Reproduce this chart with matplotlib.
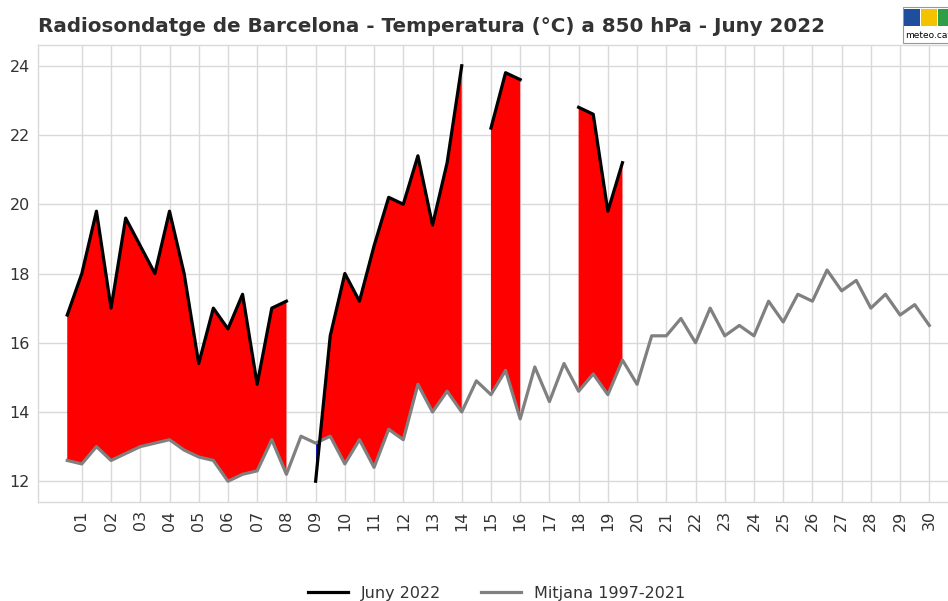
import numpy as np
import matplotlib
matplotlib.use("Agg")
import matplotlib.pyplot as plt
from matplotlib.patches import Rectangle

nan = np.nan
# half-day observations (00 and 12 UTC), 1-30 June
juny_2022 = [16.8, 18.0, 19.8, 17.0, 19.6, 18.8, 18.0, 19.8, 18.0, 15.4,
             17.0, 16.4, 17.4, 14.8, 17.0, 17.2, nan, 12.0, 16.2, 18.0,
             17.2, 18.8, 20.2, 20.0, 21.4, 19.4, 21.2, 24.0, nan, 22.2,
             23.8, 23.6, nan, nan, nan, 22.8, 22.6, 19.8, 21.2, nan,
             nan, nan, nan, nan, nan, nan, nan, nan, nan, nan,
             nan, nan, nan, nan, nan, nan, nan, nan, nan, nan]
mitjana = [12.6, 12.5, 13.0, 12.6, 12.8, 13.0, 13.1, 13.2, 12.9, 12.7,
           12.6, 12.0, 12.2, 12.3, 13.2, 12.2, 13.3, 13.1, 13.3, 12.5,
           13.2, 12.4, 13.5, 13.2, 14.8, 14.0, 14.6, 14.0, 14.9, 14.5,
           15.2, 13.8, 15.3, 14.3, 15.4, 14.6, 15.1, 14.5, 15.5, 14.8,
           16.2, 16.2, 16.7, 16.0, 17.0, 16.2, 16.5, 16.2, 17.2, 16.6,
           17.4, 17.2, 18.1, 17.5, 17.8, 17.0, 17.4, 16.8, 17.1, 16.5]
day_labels = [f"{d:02d}" for d in range(1, 31)]

y_obs = np.array(juny_2022, dtype=float)
y_avg = np.array(mitjana, dtype=float)
x = np.arange(len(y_avg))

fig = plt.figure(figsize=(9.48, 6.01), dpi=100)
ax = fig.add_axes([38/948, 99/601, (960-38)/948, (556-99)/601])

ax.fill_between(x, y_obs, y_avg, where=y_obs >= y_avg, interpolate=True,
                color="#ff0000", linewidth=0, zorder=2)
ax.fill_between(x, y_obs, y_avg, where=y_obs < y_avg, interpolate=True,
                color="#0000cc", linewidth=0, zorder=2)
ax.plot(x, y_obs, color="black", lw=2.3, label="Juny 2022", zorder=4)
ax.plot(x, y_avg, color="#808080", lw=2.3, label="Mitjana 1997-2021", zorder=3)

ax.set_xlim(-2, 61.1)
ax.set_ylim(11.4, 24.6)
ax.set_xticks(x[1::2])
ax.set_xticklabels(day_labels, rotation=90)
ax.set_yticks([12, 14, 16, 18, 20, 22, 24])
ax.tick_params(axis="both", length=0, labelsize=11.5, labelcolor="#333333", pad=6)
ax.grid(True, color="#d9d9d9", lw=1.0, zorder=0)
ax.set_axisbelow(True)
for s in ax.spines.values():
    s.set_color("#d9d9d9")
    s.set_linewidth(1.0)

fig.text(38/948, 1 - 27/601, "Radiosondatge de Barcelona - Temperatura (°C) a 850 hPa - Juny 2022",
         fontsize=14.3, fontweight="bold", color="#333333", ha="left", va="center")

h, l = ax.get_legend_handles_labels()
fig.legend(h, l, loc="center", bbox_to_anchor=(0.524, 0.013), ncol=2, frameon=False,
           fontsize=11.5, labelcolor="#333333", handlelength=2.5, columnspacing=2.5)

# logo
W, H = 948, 601
fig.patches.append(Rectangle((903/W, 1 - 43/H), 50/W, 36/H, transform=fig.transFigure,
                             facecolor="white", edgecolor="#999999", lw=0.8))
for x0, c in [(904, "#1f4e9c"), (921, "#f3c300"), (938, "#2e9e48")]:
    fig.patches.append(Rectangle((x0/W, 1 - 26/H), 16/W, 17/H, transform=fig.transFigure,
                                 facecolor=c, edgecolor="none"))
fig.text(905/W, 1 - 35/H, "meteo.cat", fontsize=6.5, color="black", ha="left", va="center")

fig.savefig("out.png", dpi=100)
